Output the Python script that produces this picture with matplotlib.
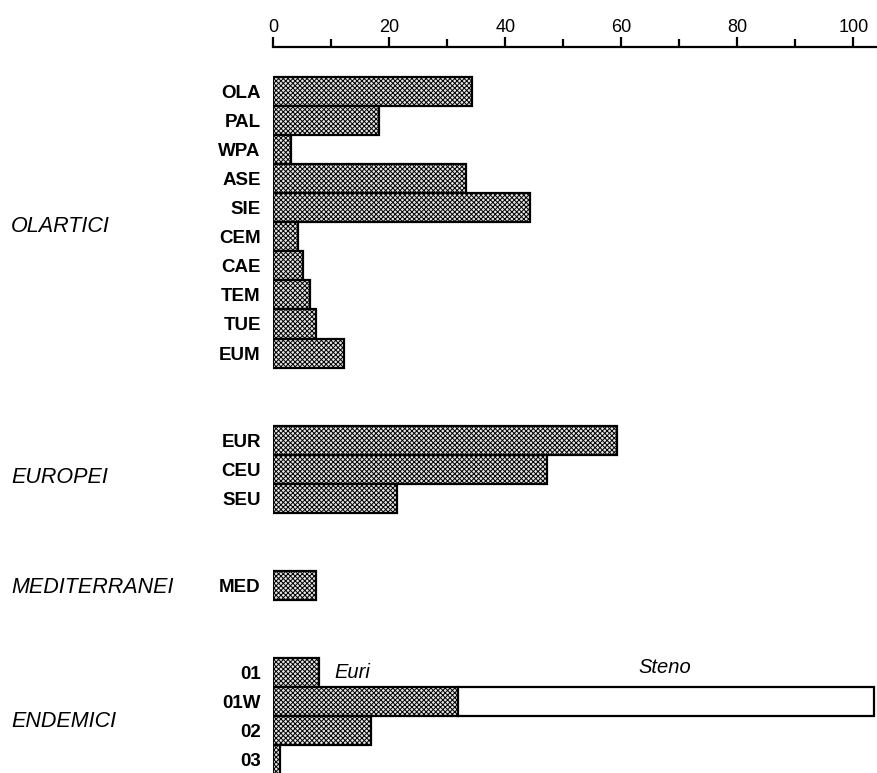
"""Horizontal bar chart of chorological categories (Olartici, Europei, ...)."""
import matplotlib
matplotlib.use("Agg")
import matplotlib.pyplot as plt
import matplotlib.transforms as mtransforms

# --- data -------------------------------------------------------------
group_names = ["OLARTICI", "EUROPEI", "MEDITERRANEI", "ENDEMICI"]

olartici = ["OLA", "PAL", "WPA", "ASE", "SIE", "CEM", "CAE", "TEM", "TUE", "EUM"]
olartici_vals = [34.3, 18.2, 3.0, 33.2, 44.3, 4.2, 5.2, 6.3, 7.4, 12.2]

europei = ["EUR", "CEU", "SEU"]
europei_vals = [59.3, 47.2, 21.3]

mediterranei = ["MED"]
mediterranei_vals = [7.4]

endemici = ["01", "01W", "02", "03"]
endemici_euri = [7.9, 31.9, 16.8, 1.2]
endemici_steno = [0.0, 71.6, 0.0, 0.0]

x_ticks = [0, 20, 40, 60, 80, 100]
x_minor = [10, 30, 50, 70, 90]

# --- layout -----------------------------------------------------------
GAP = 2  # empty rows between groups
W, H, DPI = 878, 773, 100

plt.rcParams["hatch.linewidth"] = 0.7
plt.rcParams["font.family"] = ["Liberation Sans", "DejaVu Sans"]

fig = plt.figure(figsize=(W / DPI, H / DPI), dpi=DPI)
ax = fig.add_axes([273.3 / W, 0.0, (W - 273.3) / W, (H - 47) / H])

groups = [
    (olartici, olartici_vals),
    (europei, europei_vals),
    (mediterranei, mediterranei_vals),
    (endemici, endemici_euri),
]

positions = []
labels = []
group_centers = []
row = 0
for names, vals in groups:
    pos = list(range(row, row + len(names)))
    positions.append(pos)
    labels.extend(names)
    group_centers.append((pos[0] + pos[-1]) / 2.0)
    row += len(names) + GAP

bar_style = dict(height=1.0, facecolor="#e6e6e6", edgecolor="black",
                 linewidth=1.6, hatch="xxxxxxx")

for (names, vals), pos in zip(groups, positions):
    ax.barh(pos, vals, **bar_style)

# steno part of the endemic bars
end_pos = positions[-1]
steno_bars = ax.barh(end_pos, endemici_steno, left=endemici_euri, height=1.0,
                     facecolor="white", edgecolor="black", linewidth=1.6)
for p, s in zip(steno_bars, endemici_steno):
    if s == 0:
        p.set_visible(False)

all_pos = [p for pos in positions for p in pos]
ax.set_yticks(all_pos)
ax.set_yticklabels(labels, fontsize=13.5, fontweight="bold")
ax.tick_params(axis="y", length=0, pad=9)

ax.set_ylim(23.48, -1.55)
ax.set_xlim(0, (W - 273.3) / 5.8)

ax.xaxis.tick_top()
ax.set_xticks(x_ticks)
ax.set_xticks(x_minor, minor=True)
ax.set_xticklabels([str(t) for t in x_ticks], fontsize=13)
ax.tick_params(axis="x", which="major", direction="out", length=7.5,
               width=1.6, pad=0.5)
ax.tick_params(axis="x", which="minor", direction="out", length=5.5,
               width=1.6)

for side in ["left", "right", "bottom"]:
    ax.spines[side].set_visible(False)
ax.spines["top"].set_linewidth(1.6)

# group names on the far left
trans = mtransforms.blended_transform_factory(fig.transFigure, ax.transData)
group_offsets = [0.15, 0.3, 0.1, 0.2]
for name, c, off in zip(group_names, group_centers, group_offsets):
    ax.text(11 / W, c + off, name, transform=trans, ha="left", va="center",
            fontsize=15.5, style="italic")

# Euri / Steno annotations
ax.text(10.6, end_pos[0], "Euri", ha="left", va="center", fontsize=14.5,
        style="italic")
ax.text(67.5, end_pos[0] - 0.15, "Steno", ha="center", va="center",
        fontsize=14.5, style="italic")

fig.savefig("out.png", dpi=DPI)
